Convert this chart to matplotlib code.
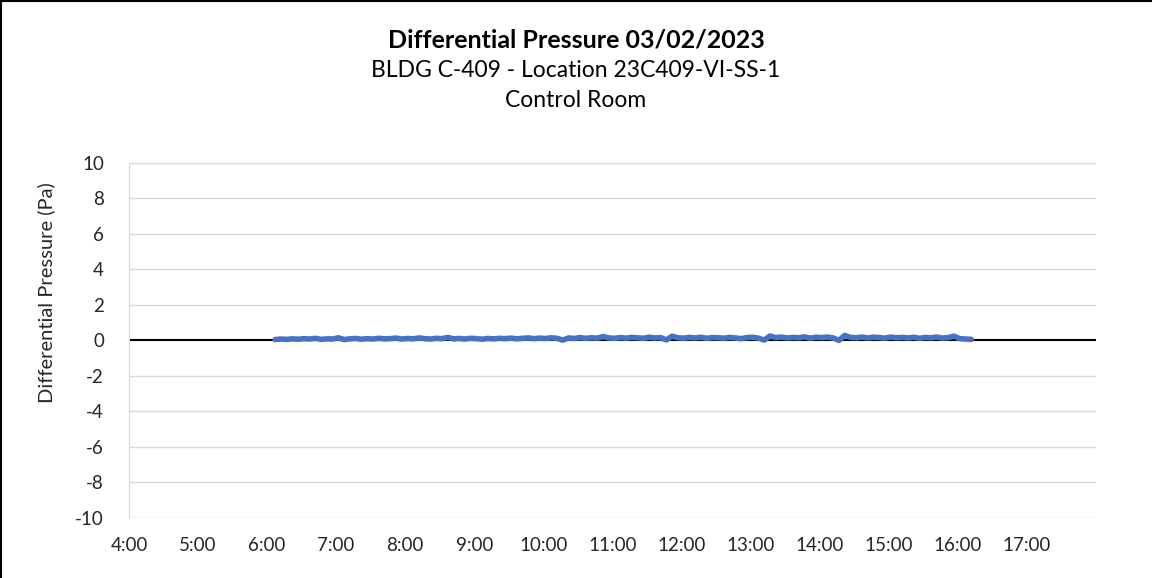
import numpy as np
import matplotlib.pyplot as plt
import matplotlib as mpl
from matplotlib.lines import Line2D

# 時刻 (時間単位), 6:07 から 5 分ごと
start_hour = 6 + 7 / 60
step_min = 5

# 差圧 (Pa), 図から読み取った値
pressure = [
    0.05, 0.08, 0.06, 0.09, 0.07, 0.10, 0.08, 0.12, 0.06, 0.09,
    0.08, 0.15, 0.05, 0.09, 0.11, 0.07, 0.10, 0.08, 0.12, 0.09,
    0.10, 0.13, 0.08, 0.11, 0.09, 0.14, 0.10, 0.08, 0.12, 0.10,
    0.17, 0.09, 0.11, 0.08, 0.12, 0.10, 0.07, 0.11, 0.09, 0.12,
    0.10, 0.13, 0.09, 0.12, 0.14, 0.10, 0.13, 0.11, 0.15, 0.12,
    0.02, 0.14, 0.11, 0.16, 0.12, 0.15, 0.13, 0.22, 0.14, 0.12,
    0.16, 0.13, 0.17, 0.15, 0.12, 0.18, 0.14, 0.16, 0.03, 0.24,
    0.15, 0.13, 0.17, 0.14, 0.18, 0.12, 0.16, 0.15, 0.13, 0.17,
    0.14, 0.10, 0.16, 0.18, 0.13, 0.02, 0.25, 0.16, 0.19, 0.14,
    0.17, 0.15, 0.20, 0.13, 0.18, 0.16, 0.19, 0.14, 0.00, 0.28,
    0.17, 0.15, 0.19, 0.14, 0.18, 0.16, 0.13, 0.19, 0.15, 0.17,
    0.14, 0.18, 0.12, 0.17, 0.15, 0.19, 0.13, 0.16, 0.24, 0.10,
    0.08, 0.06,
]

x_ticks = list(range(4, 18))
x_labels = ["{}:00".format(h) for h in x_ticks]
y_ticks = list(range(-10, 11, 2))

title = "Differential Pressure 03/02/2023"
subtitle1 = "BLDG C-409 - Location 23C409-VI-SS-1"
subtitle2 = "Control Room"


def main():
    mpl.rc('font', family=["Lato", "DejaVu Sans"])
    mpl.rcParams['axes.unicode_minus'] = False

    fig = plt.figure(figsize=(11.52, 5.78), dpi=100)
    ax = fig.add_axes([0.112, 0.104, 0.839, 0.614])

    hours = start_hour + np.arange(len(pressure)) * step_min / 60

    # グリッド
    for y in y_ticks:
        if y == 0:
            continue
        ax.axhline(y, color="#d9d9d9", lw=1.0, zorder=0)
    ax.axhline(0, color="black", lw=1.5, zorder=1)

    ax.plot(hours, pressure, color="#4472C4", lw=4.0,
            solid_joinstyle="round", solid_capstyle="round", zorder=3)

    ax.set_xlim(4, 18)
    ax.set_ylim(-10, 10)
    ax.set_xticks(x_ticks)
    ax.set_xticklabels(x_labels)
    ax.set_yticks(y_ticks)
    ax.tick_params(length=0, labelsize=13.5, colors="#262626")
    ax.tick_params(axis="x", pad=14)
    ax.tick_params(axis="y", pad=18)

    for s in ["top", "right", "bottom"]:
        ax.spines[s].set_visible(False)
    ax.spines["left"].set_color("#d9d9d9")

    # 縦軸ラベル
    fig.text(0.040, 0.493, "Differential Pressure (Pa)", rotation=90,
             ha="center", va="center", fontsize=14.5, color="#262626")

    fig.text(0.5, 0.930, title, ha="center", va="center",
             fontsize=18, fontweight="bold")
    fig.text(0.5, 0.878, subtitle1, ha="center", va="center", fontsize=16.5)
    fig.text(0.5, 0.826, subtitle2, ha="center", va="center", fontsize=16.5)

    # 枠線
    fig.add_artist(Line2D([0.001, 0.001], [0, 0.998], color="black", lw=1.5,
                          transform=fig.transFigure))
    fig.add_artist(Line2D([0.001, 1], [0.998, 0.998], color="black", lw=1.5,
                          transform=fig.transFigure))

    plt.savefig("out.png", dpi=100)


if __name__ == '__main__':
    main()
